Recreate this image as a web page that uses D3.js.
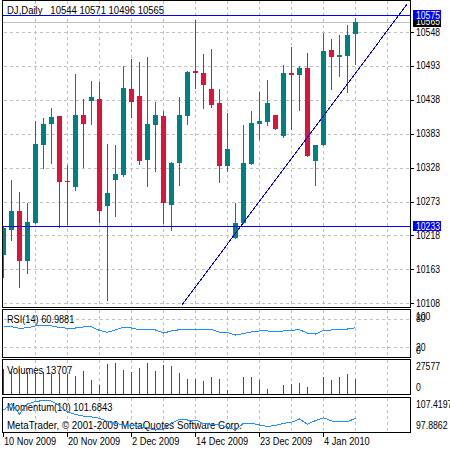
<!DOCTYPE html>
<html>
<head>
<meta charset="utf-8">
<script src="https://cdn.jsdelivr.net/npm/d3@7"></script>
<style>
  body { margin: 0; background: #fff; }
  svg { display: block; font-family: "Liberation Sans", Arial, sans-serif; font-size: 10px; }
</style>
</head>
<body>
<svg id="chart" width="450" height="450"></svg>
<script>
// chart data
const symbol = "DJ,Daily";
const tickBars = [0, 8, 16, 24, 32, 40];
const tickLabels = ["10 Nov 2009", "20 Nov 2009", "2 Dec 2009", "14 Dec 2009", "23 Dec 2009", "4 Jan 2010"];

const opens  = [10187,10227,10258,10176,10239,10365,10398,10412,10306,10296,10413,10436,10440,10265,10308,10316,10456,10444,10340,10397,10412,10268,10336,10411,10485,10482,10456,10433,10330,10214,10238,10334,10399,10402,10413,10380,10482,10478,10490,10339,10364,10519,10508,10509,10544];
const highs  = [10231,10308,10288,10271,10404,10409,10425,10412,10332,10480,10439,10469,10467,10366,10365,10493,10504,10500,10508,10435,10420,10337,10443,10485,10568,10513,10521,10456,10417,10270,10397,10420,10450,10470,10413,10495,10524,10493,10514,10365,10547,10537,10543,10560,10571];
const lows   = [10151,10211,10135,10157,10238,10328,10336,10231,10237,10292,10329,10399,10240,10114,10250,10315,10410,10334,10299,10323,10239,10227,10300,10399,10457,10425,10427,10305,10322,10214,10238,10334,10375,10397,10390,10378,10391,10422,10347,10300,10364,10455,10477,10450,10496];
const closes = [10230,10258,10177,10240,10366,10399,10410,10305,10304,10413,10399,10443,10258,10287,10318,10457,10434,10339,10399,10413,10270,10336,10413,10483,10482,10462,10430,10331,10358,10238,10336,10400,10404,10433,10390,10482,10479,10490,10347,10365,10517,10508,10511,10543,10565];

const volumes = [21800,22000,22200,19830,19600,19500,17370,18920,18010,16450,20110,12160,8230,26510,27420,21300,19190,23490,27577,20380,25590,24950,18280,13710,13600,11880,14900,13710,3660,0,15540,14900,12160,4840,0,8230,9140,10050,6400,0,14900,12160,15540,17370,13707];

const rsi = [63.1,63.1,59.8,61.0,64.6,64.6,64.6,61.5,59.8,60.4,62.5,63.1,55.2,51.5,56.3,61.9,60.4,56.9,56.3,56.3,50.0,54.2,56.9,58.3,58.3,58.3,57.3,51.5,51.0,45.8,49.0,52.1,54.2,54.2,52.7,54.2,55.6,56.9,49.4,47.9,55.6,56.3,56.9,58.3,60.9881];

const momentum = [104.14,105.93,102.95,105.93,106.67,106.97,106.82,105.33,103.55,102.80,102.35,102.06,101.67,100.72,100.27,99.52,99.67,99.23,98.78,98.18,98.33,100.27,101.31,101.16,101.16,100.12,99.88,99.67,99.08,98.18,100.18,100.18,99.67,99.23,99.52,100.18,100.48,101.46,99.88,101.01,101.85,100.87,100.66,100.66,101.6843];

const priceTicks = [10108, 10163, 10218, 10273, 10328, 10383, 10438, 10493, 10548];
const rsiLevels = [80, 20];
const rsiLabels = [100, 80, 20, 0];
const volLabels = [27577, 0];
const momLabels = [107.4197, 97.8862];
const hLines = [10575, 10233];
const bidPrice = 10565;
const trendPoints = [[22.28, 10105], [50.5, 10594]];

const svg = d3.select("#chart");
const teal = "#008080", crimson = "#DC143C", gridColor = "#c0c0c0";
const px = v => Math.round(v) + 0.5;

// terminal font has narrow digits: squeeze each text by the digit count
function narrowDigits(sel, k = 0.76) {
  sel.each(function() {
    const n = (this.textContent.match(/[0-9]/g) || []).length;
    if (!n) return;
    const w = this.getComputedTextLength();
    d3.select(this).attr("textLength", w - k * n).attr("lengthAdjust", "spacingAndGlyphs");
  });
}

// panels: left/right border and top/bottom border lines
const left = 2.5, right = 410.5;
const panels = {
  main: {top: 0.5, bottom: 307.5},
  rsi:  {top: 309.5, bottom: 357.5},
  vol:  {top: 359.5, bottom: 394.5},
  mom:  {top: 397.5, bottom: 432.5}
};

const x = d3.scaleLinear().domain([0, 44]).range([3.5, 355.5]);
const yPrice = d3.scaleLinear().domain([10108, 10548]).range([303.3, 32]);
const yRsi = d3.scaleLinear().domain([0, 100]).range([357, 309]);
const yVol = d3.scaleLinear().domain([0, 27577]).range([394, 363]);
const yMom = d3.scaleLinear().domain([97.8862, 107.4197]).range([431, 399]);

svg.append("rect").attr("width", 450).attr("height", 450).attr("fill", "#fff");

const defs = svg.append("defs");
Object.entries(panels).forEach(([k, p]) => {
  defs.append("clipPath").attr("id", "clip-" + k)
    .append("rect").attr("x", left + 0.5).attr("y", p.top + 0.5)
    .attr("width", right - left - 1).attr("height", p.bottom - p.top - 1);
});

// vertical grid in every panel
const gridBars = d3.range(4, 49, 4);
Object.entries(panels).forEach(([k, p]) => {
  svg.append("g").selectAll("line").data(gridBars).join("line")
    .attr("x1", d => px(x(d) - 0.5)).attr("x2", d => px(x(d) - 0.5))
    .attr("y1", p.top + 0.5).attr("y2", p.bottom - 0.5)
    .attr("stroke", gridColor).attr("stroke-dasharray", "3,3")
    .attr("shape-rendering", "crispEdges");
});

// horizontal grid, main panel
svg.append("g").selectAll("line").data(priceTicks).join("line")
  .attr("x1", left + 1).attr("x2", right - 1)
  .attr("y1", d => px(yPrice(d))).attr("y2", d => px(yPrice(d)))
  .attr("stroke", gridColor).attr("stroke-dasharray", "3,3")
  .attr("shape-rendering", "crispEdges");

// rsi levels
svg.append("g").selectAll("line").data(rsiLevels).join("line")
  .attr("x1", left + 1).attr("x2", right - 1)
  .attr("y1", d => px(yRsi(d))).attr("y2", d => px(yRsi(d)))
  .attr("stroke", gridColor).attr("stroke-dasharray", "3,3")
  .attr("shape-rendering", "crispEdges");

// bid line
svg.append("line")
  .attr("x1", left).attr("x2", right)
  .attr("y1", px(yPrice(bidPrice))).attr("y2", px(yPrice(bidPrice)))
  .attr("stroke", gridColor).attr("shape-rendering", "crispEdges");

// candles
const bars = d3.range(opens.length);
const candles = svg.append("g").attr("clip-path", "url(#clip-main)").attr("shape-rendering", "crispEdges");
candles.selectAll("line").data(bars).join("line")
  .attr("x1", d => px(x(d) - 0.5)).attr("x2", d => px(x(d) - 0.5))
  .attr("y1", d => Math.round(yPrice(highs[d])))
  .attr("y2", d => Math.round(yPrice(lows[d])) + 1)
  .attr("stroke", d => closes[d] >= opens[d] ? teal : crimson);
candles.selectAll("rect").data(bars).join("rect")
  .attr("x", d => Math.floor(x(d)) - 2)
  .attr("width", 5)
  .attr("y", d => Math.round(yPrice(Math.max(opens[d], closes[d]))))
  .attr("height", d => Math.max(1, Math.round(yPrice(Math.min(opens[d], closes[d]))) - Math.round(yPrice(Math.max(opens[d], closes[d])))))
  .attr("fill", d => closes[d] >= opens[d] ? teal : crimson);

// horizontal user lines and trend line
svg.append("g").selectAll("line").data(hLines).join("line")
  .attr("x1", left).attr("x2", right)
  .attr("y1", d => px(yPrice(d))).attr("y2", d => px(yPrice(d)))
  .attr("stroke", "#0000ff").attr("shape-rendering", "crispEdges");

svg.append("line")
  .attr("clip-path", "url(#clip-main)")
  .attr("x1", x(trendPoints[0][0])).attr("y1", yPrice(trendPoints[0][1]))
  .attr("x2", x(trendPoints[1][0])).attr("y2", yPrice(trendPoints[1][1]))
  .attr("stroke", "#0000ff").attr("shape-rendering", "crispEdges");

// indicator titles
const title = (t, yy, k) => svg.append("text").attr("x", 7).attr("y", yy)
  .attr("fill", "#000").text(t).call(narrowDigits, k);
const last = opens.length - 1;
title(symbol + "\u00a0\u00a0\u00a0" + [opens[last], highs[last], lows[last], closes[last]].join(" "), 14, 0.4);
title("RSI(14) " + rsi[last].toFixed(4), 323);
title("Volumes " + volumes[last], 373.5);
title("Momentum(10) " + momentum[last].toFixed(4), 411);
title("MetaTrader, \u00a9 2001-2009 MetaQuotes Software Corp.", 428.5);

// rsi line
svg.append("path").datum(rsi)
  .attr("clip-path", "url(#clip-rsi)")
  .attr("d", d3.line().x((d, i) => x(i)).y(d => yRsi(d)))
  .attr("fill", "none").attr("stroke", "#1e90ff").attr("shape-rendering", "crispEdges");

// volumes
svg.append("g").attr("shape-rendering", "crispEdges")
  .selectAll("line").data(bars.filter(i => volumes[i] > 0)).join("line")
  .attr("x1", d => px(x(d) - 0.5)).attr("x2", d => px(x(d) - 0.5))
  .attr("y1", 394).attr("y2", d => Math.round(yVol(volumes[d])))
  .attr("stroke", d => d === 0 || volumes[d] > volumes[d - 1] ? "#008000" : "#ff0000");

// momentum line
svg.append("path").datum(momentum)
  .attr("clip-path", "url(#clip-mom)")
  .attr("d", d3.line().x((d, i) => x(i)).y(d => yMom(d)))
  .attr("fill", "none").attr("stroke", "#1e90ff").attr("shape-rendering", "crispEdges");

// panel borders
Object.values(panels).forEach(p => {
  svg.append("rect").attr("x", left).attr("y", p.top)
    .attr("width", right - left).attr("height", p.bottom - p.top)
    .attr("fill", "none").attr("stroke", "#000").attr("shape-rendering", "crispEdges");
});

// price axis
const axis = svg.append("g");
axis.selectAll("line").data(priceTicks).join("line")
  .attr("x1", right).attr("x2", right + 3)
  .attr("y1", d => px(yPrice(d))).attr("y2", d => px(yPrice(d)))
  .attr("stroke", "#000").attr("shape-rendering", "crispEdges");
axis.selectAll("text").data(priceTicks).join("text")
  .attr("x", 416).attr("y", d => yPrice(d) + 3.5).text(d => d)
  .call(narrowDigits);

// highlighted price labels
const tag = (price, bg) => {
  const yy = yPrice(price);
  svg.append("rect").attr("x", 413).attr("y", Math.round(yy) - 5)
    .attr("width", 28).attr("height", 10).attr("fill", bg);
  svg.append("text").attr("x", 416).attr("y", yy + 3.5).attr("fill", "#fff").text(price)
    .call(narrowDigits);
};
tag(bidPrice, "#000");
hLines.forEach(p => tag(p, "#0000ff"));

// sub-panel scale labels, kept inside their panel
const sideLabels = (vals, scale, p, fmt) => {
  svg.append("g").selectAll("text").data(vals).join("text")
    .attr("x", 416)
    .attr("y", d => Math.min(Math.max(scale(d), p.top + 6.5), p.bottom - 7.5) + 3.5)
    .text(fmt)
    .call(narrowDigits);
};
sideLabels(rsiLabels, yRsi, panels.rsi, d => d);
sideLabels(volLabels, yVol, panels.vol, d => d);
sideLabels(momLabels, yMom, panels.mom, d => d.toFixed(4));

// time axis
svg.append("g").selectAll("line").data(tickBars).join("line")
  .attr("x1", d => px(x(d) - 0.5)).attr("x2", d => px(x(d) - 0.5))
  .attr("y1", 432).attr("y2", 437)
  .attr("stroke", "#000").attr("shape-rendering", "crispEdges");
svg.append("g").selectAll("text").data(tickBars).join("text")
  .attr("x", d => x(d) + 0.5).attr("y", 444.5)
  .text((d, i) => tickLabels[i])
  .call(narrowDigits);
</script>
</body>
</html>
